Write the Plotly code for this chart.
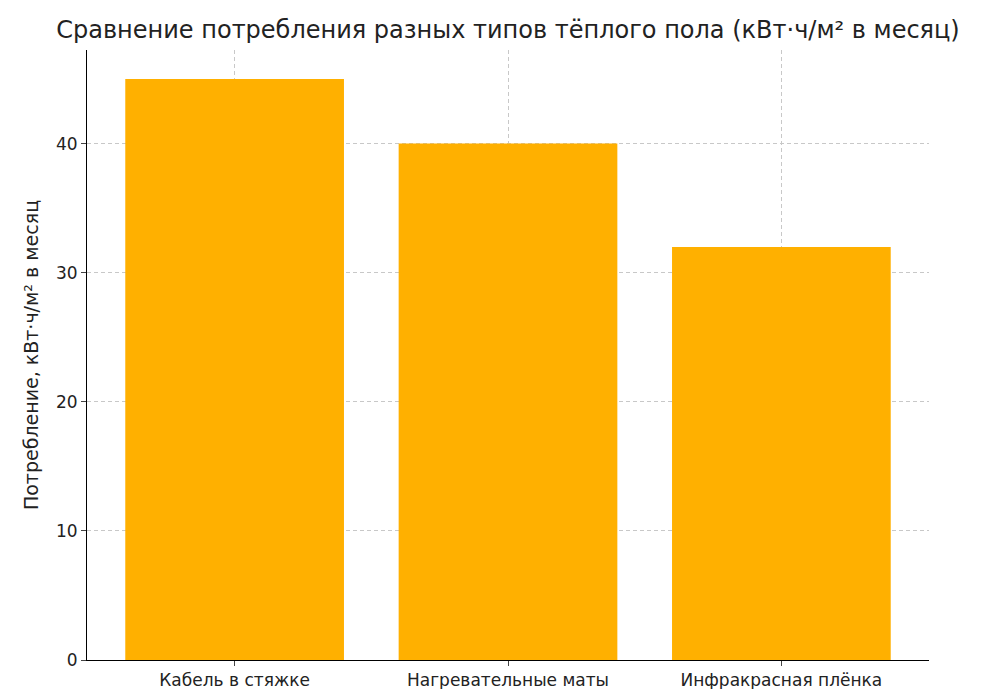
import plotly.graph_objects as go

categories = ["Кабель в стяжке", "Нагревательные маты", "Инфракрасная плёнка"]
values = [45, 40, 32]

fig = go.Figure(go.Bar(x=list(range(len(categories))), y=values, width=0.8,
                       marker=dict(color="#FFB000", line=dict(width=0))))
fig.update_layout(
    width=1000, height=689, plot_bgcolor="white", paper_bgcolor="white",
    margin=dict(l=79, r=79, t=42, b=37, autoexpand=False),
    font=dict(family="DejaVu Sans", size=17, color="#222"),
    title=dict(text="Сравнение потребления разных типов тёплого пола (кВт·ч/м² в месяц)",
               x=0.5, xanchor="center", y=0.968, yanchor="middle", font=dict(size=24)),
    showlegend=False, bargap=0.2,
)
common = dict(showline=True, linecolor="black", linewidth=1, ticks="outside", ticklen=5,
              showgrid=True, gridcolor="#c8c8c8", griddash="4px,3px", gridwidth=0.8,
              zeroline=False, automargin=False, layer="above traces")
fig.update_xaxes(range=[-0.54, 2.54], tickvals=list(range(len(categories))), ticktext=categories, **common)
fig.update_yaxes(range=[0, 47.25], tickvals=[0, 10, 20, 30, 40],
                 title=dict(text="Потребление, кВт·ч/м² в месяц", font=dict(size=19), standoff=12), **common)
fig.write_html("out.html")
